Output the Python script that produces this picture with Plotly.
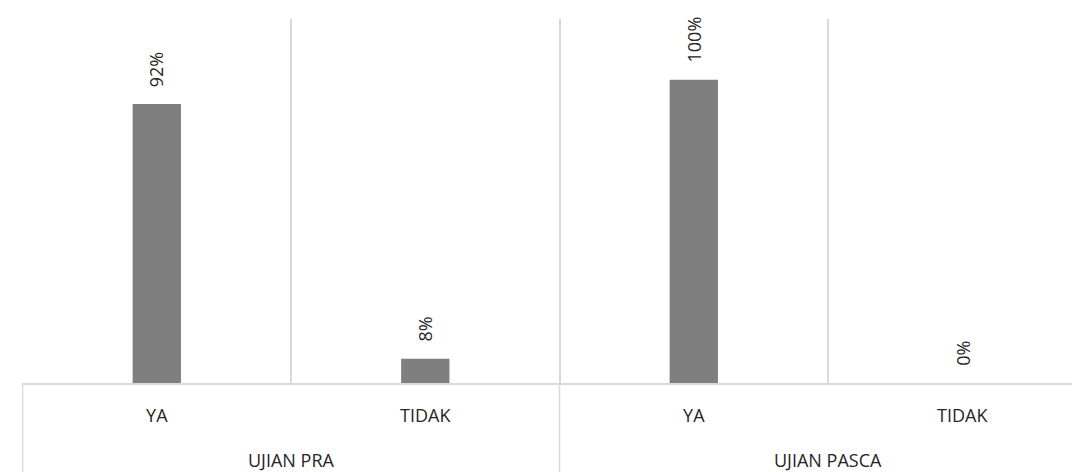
import plotly.graph_objects as go

groups = ["UJIAN PRA", "UJIAN PASCA"]
answers = ["YA", "TIDAK", "YA", "TIDAK"]
values = [92, 8, 100, 0]
labels = ["92%", "8%", "100%", "0%"]
group_of = [0, 0, 1, 1]

BAR = "#7f7f7f"
GRID = "#d9d9d9"
TXT = "#262626"
FONT = "Open Sans"

ML, MR, MT, MB = 22, 0, 19, 89
H = 472
plot_h = H - MT - MB

pos = list(range(len(values)))
bounds = [p - 0.5 for p in pos] + [pos[-1] + 0.5]

fig = go.Figure()
fig.add_trace(go.Bar(
    x=pos,
    y=values,
    width=0.18,
    marker=dict(color=BAR, line=dict(width=0)),
    hoverinfo="skip",
))

for p, v, t in zip(pos, values, labels):
    fig.add_annotation(
        x=p, y=v, xref="x", yref="y",
        text=t, textangle=-90, showarrow=False,
        xanchor="center", yanchor="bottom", yshift=15,
        font=dict(family=FONT, size=18, color=TXT),
    )

# group labels and group dividers
for gi, g in enumerate(groups):
    members = [p for p, k in zip(pos, group_of) if k == gi]
    centre = (members[0] + members[-1]) / 2
    fig.add_annotation(
        x=centre, y=0, xref="x", yref="paper",
        text=g, showarrow=False,
        xanchor="center", yanchor="middle", yshift=-77,
        font=dict(family=FONT, size=18, color=TXT),
    )
    left = members[0] - 0.5
    fig.add_shape(
        type="line", xref="x", yref="paper",
        x0=left, x1=left, y0=0, y1=-MB / plot_h,
        line=dict(color=GRID, width=1.5),
    )

fig.update_layout(
    width=1072, height=H,
    margin=dict(l=ML, r=MR, t=MT, b=MB, autoexpand=False),
    paper_bgcolor="white", plot_bgcolor="white",
    showlegend=False,
    font=dict(family=FONT, size=18, color=TXT),
)
fig.update_xaxes(
    range=[-0.502, 3.4086],
    tickvals=pos, ticktext=answers,
    showgrid=False, ticks="",
    minor=dict(tickvals=bounds, showgrid=True, gridcolor=GRID, gridwidth=1.5, ticks=""),
    showline=True, linecolor=GRID, linewidth=1.5,
    zeroline=False,
    tickfont=dict(family=FONT, size=18, color=TXT),
    ticklabelstandoff=16,
    automargin=False,
)
fig.update_yaxes(
    range=[0, 120], showticklabels=False, showgrid=False,
    zeroline=False, showline=False, ticks="", automargin=False,
)

fig.write_html(
    "out.html",
    config={"displayModeBar": False},
    post_script="document.body.style.margin='0';document.body.style.overflow='hidden';",
)
